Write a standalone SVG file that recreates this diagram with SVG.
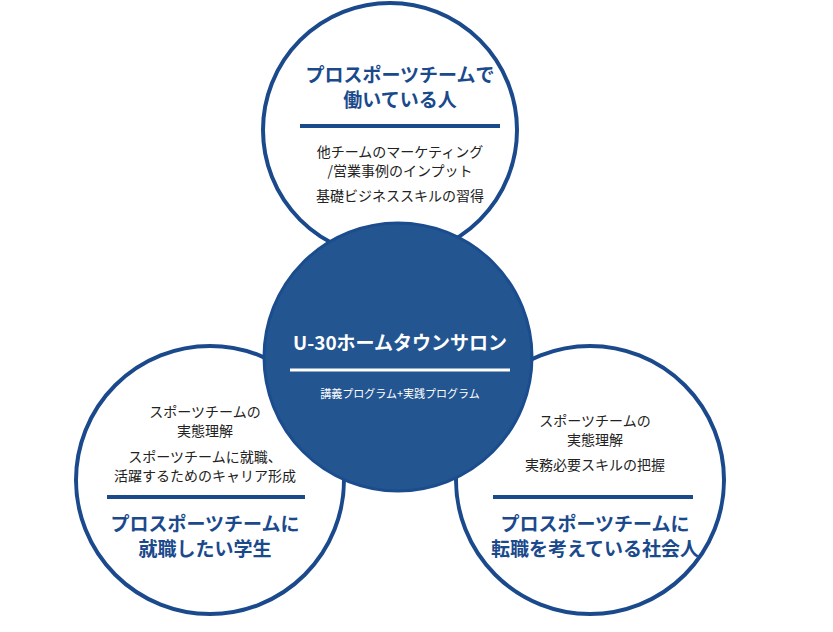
<svg xmlns="http://www.w3.org/2000/svg" width="833" height="632" viewBox="0 0 833 632">
<style>
.o{fill:#fff;stroke:#1b4a8c;stroke-width:4}
.t{font-family:"Noto Sans CJK JP","Noto Sans",sans-serif;font-size:14px;fill:#222;text-anchor:middle}
.h{font-family:"Noto Sans CJK JP","Noto Sans",sans-serif;font-size:19px;font-weight:bold;fill:#1b4a8c;text-anchor:middle}
.l{stroke:#1b4a8c;stroke-width:4}
</style>
<g id="top">
<circle class="o" cx="390" cy="130" r="127"/>
<text class="h" x="400" y="82">プロスポーツチームで</text>
<text class="h" x="400" y="107">働いている人</text>
<line class="l" x1="300" y1="126" x2="500" y2="126"/>
<text class="t" x="400" y="157">他チームのマーケティング</text>
<text class="t" x="400" y="176">/営業事例のインプット</text>
<text class="t" x="400" y="201">基礎ビジネススキルの習得</text>
</g>
<g id="left">
<circle class="o" cx="210" cy="480" r="134"/>
<text class="t" x="205" y="417">スポーツチームの</text>
<text class="t" x="205" y="436">実態理解</text>
<text class="t" x="205" y="462">スポーツチームに就職、</text>
<text class="t" x="205" y="481">活躍するためのキャリア形成</text>
<line class="l" x1="107" y1="497" x2="305" y2="497"/>
<text class="h" x="205" y="531">プロスポーツチームに</text>
<text class="h" x="205" y="556">就職したい学生</text>
</g>
<g id="right">
<circle class="o" cx="590" cy="480" r="134"/>
<text class="t" x="595" y="426">スポーツチームの</text>
<text class="t" x="595" y="445">実態理解</text>
<text class="t" x="595" y="470">実務必要スキルの把握</text>
<line class="l" x1="493" y1="497" x2="693" y2="497"/>
<text class="h" x="595" y="531">プロスポーツチームに</text>
<text class="h" x="595" y="556">転職を考えている社会人</text>
</g>
<g id="center">
<circle cx="398" cy="357" r="134" fill="#235591" stroke="#1b4d8e" stroke-width="3"/>
<text x="400" y="350" font-family="'Noto Sans CJK JP','Noto Sans',sans-serif" font-size="19" font-weight="bold" fill="#fff" text-anchor="middle">U-30ホームタウンサロン</text>
<line x1="290" y1="370" x2="510" y2="370" stroke="#fff" stroke-width="3"/>
<text x="400" y="398" font-family="'Noto Sans CJK JP','Noto Sans',sans-serif" font-size="11" fill="#fff" text-anchor="middle">講義プログラム+実践プログラム</text>
</g>
<g id="connectors"/>
</svg>
